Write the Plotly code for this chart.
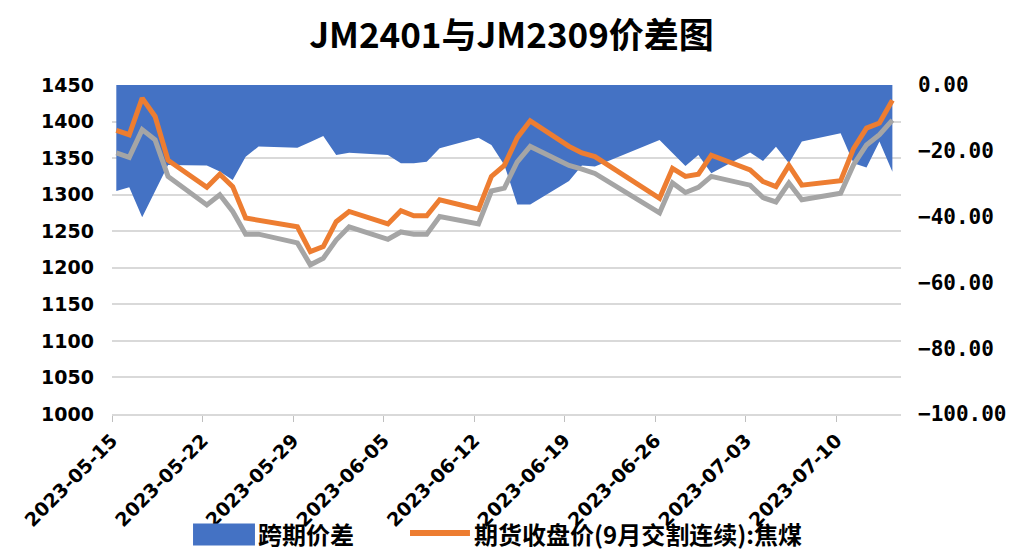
import plotly.graph_objects as go

dates = [
    "2023-05-15", "2023-05-16", "2023-05-17", "2023-05-18", "2023-05-19",
    "2023-05-22", "2023-05-23", "2023-05-24", "2023-05-25", "2023-05-26",
    "2023-05-29", "2023-05-30", "2023-05-31", "2023-06-01", "2023-06-02",
    "2023-06-05", "2023-06-06", "2023-06-07", "2023-06-08", "2023-06-09",
    "2023-06-12", "2023-06-13", "2023-06-14", "2023-06-15", "2023-06-16",
    "2023-06-19", "2023-06-20", "2023-06-21",
    "2023-06-26", "2023-06-27", "2023-06-28", "2023-06-29", "2023-06-30",
    "2023-07-03", "2023-07-04", "2023-07-05", "2023-07-06", "2023-07-07",
    "2023-07-10", "2023-07-11", "2023-07-12", "2023-07-13", "2023-07-14",
]

spread = [
    -32.2, -31.1, -40.2, -32.0, -24.3,
    -24.5, -26.3, -28.9, -21.8, -18.7,
    -19.1, -17.3, -15.5, -21.3, -20.6,
    -21.3, -23.8, -23.8, -23.3, -19.2,
    -16.0, -18.2, -24.3, -36.3, -36.3,
    -29.2, -24.5, -24.8,
    -16.7, -20.7, -24.6, -21.3, -26.8,
    -20.5, -23.1, -18.8, -23.8, -17.2,
    -14.7, -23.8, -25.1, -17.2, -26.4,
]

jm2309 = [
    1388, 1382, 1432, 1407, 1347,
    1310, 1328, 1311, 1268, 1265,
    1256, 1222, 1229, 1263, 1277,
    1260, 1278, 1271, 1271, 1293,
    1280, 1325, 1340, 1378, 1401,
    1366, 1357, 1352,
    1295, 1336, 1325, 1328, 1354,
    1334, 1318, 1311, 1340, 1313,
    1319, 1363, 1391, 1398, 1429,
]

jm2401 = [
    1357, 1351, 1389, 1375, 1325,
    1286, 1300, 1277, 1246, 1246,
    1234, 1204, 1213, 1238, 1256,
    1239, 1249, 1246, 1246, 1270,
    1260, 1305, 1309, 1345, 1366,
    1340, 1335, 1329,
    1275, 1316, 1303, 1310, 1325,
    1313, 1296, 1290, 1316, 1293,
    1302, 1341, 1368, 1382, 1402,
]

title_text = "JM2401与JM2309价差图"
name_spread = "跨期价差"
name_jm2309 = "期货收盘价(9月交割连续):焦煤"
name_jm2401 = "期货收盘价(JM2401):焦煤"

left_ticks = list(range(1000, 1451, 50))
right_ticks = [0, -20, -40, -60, -80, -100]
x_ticks = ["2023-05-15", "2023-05-22", "2023-05-29", "2023-06-05", "2023-06-12",
           "2023-06-19", "2023-06-26", "2023-07-03", "2023-07-10"]

BLUE = "#4472C4"
ORANGE = "#ED7D31"
GRAY = "#A5A5A5"

xs = [d + " 08:00" for d in dates]

fig = go.Figure()

fig.add_trace(go.Scatter(
    x=xs, y=spread, name=name_spread, mode="lines",
    line=dict(width=0, color=BLUE),
    fill="tozeroy", fillcolor=BLUE,
    yaxis="y",
))
fig.add_trace(go.Scatter(
    x=xs, y=jm2401, name=name_jm2401, mode="lines",
    line=dict(width=5, color=GRAY),
    yaxis="y2",
))
fig.add_trace(go.Scatter(
    x=xs, y=jm2309, name=name_jm2309, mode="lines",
    line=dict(width=5, color=ORANGE),
    yaxis="y2",
))

# Custom legend (as in the reference: wide blue block + wide orange line)
legend_y = -0.362
fig.add_shape(type="rect", xref="paper", yref="paper",
              x0=0.1027, x1=0.1812, y0=-0.400, y1=-0.333,
              fillcolor=BLUE, line=dict(width=0))
fig.add_shape(type="line", xref="paper", yref="paper",
              x0=0.3777, x1=0.4537, y0=legend_y, y1=legend_y,
              line=dict(color=ORANGE, width=6))
legend_font = dict(family="Noto Sans CJK SC", size=24, color="#000000", weight="bold")
fig.add_annotation(text=name_spread, xref="paper", yref="paper",
                   x=0.184, y=legend_y, xanchor="left", yanchor="middle",
                   showarrow=False, font=legend_font, borderpad=0)
fig.add_annotation(text=name_jm2309, xref="paper", yref="paper",
                   x=0.458, y=legend_y, xanchor="left", yanchor="middle",
                   showarrow=False, font=legend_font, borderpad=0)

fig.update_layout(
    width=1007, height=545,
    paper_bgcolor="white", plot_bgcolor="white",
    margin=dict(l=104, r=114, t=77, b=139),
    showlegend=False,
    title=dict(
        text="<b>" + title_text + "</b>",
        x=0.5, xanchor="center", y=0.95, yanchor="middle",
        font=dict(family="Noto Sans CJK SC", size=35, color="#000000"),
    ),
    xaxis=dict(
        type="date",
        automargin=False,
        range=["2023-05-15", "2023-07-15"],
        tickvals=x_ticks, ticktext=x_ticks,
        tickangle=-45,
        showgrid=False,
        showline=True, linecolor="#D9D9D9", linewidth=2,
        ticks="outside", ticklen=6, tickcolor="#BFBFBF", tickwidth=1,
        tickfont=dict(family="DejaVu Sans", size=19, color="#000000", weight="bold"),
    ),
    yaxis=dict(
        side="right",
        automargin=False,
        range=[-100, 0],
        tickvals=right_ticks,
        tickformat=".2f",
        showgrid=False, zeroline=False, showline=False,
        ticklabelstandoff=16,
        tickfont=dict(family="DejaVu Sans Mono", size=21, color="#000000", weight="bold"),
    ),
    yaxis2=dict(
        side="left", overlaying="y",
        automargin=False,
        range=[1000, 1450],
        tickvals=left_ticks,
        showgrid=True, gridcolor="#D9D9D9", gridwidth=2,
        zeroline=False, showline=False,
        ticklabelstandoff=17,
        tickfont=dict(family="DejaVu Sans", size=19, color="#000000", weight="bold"),
    ),
)

fig.write_html("out.html")
